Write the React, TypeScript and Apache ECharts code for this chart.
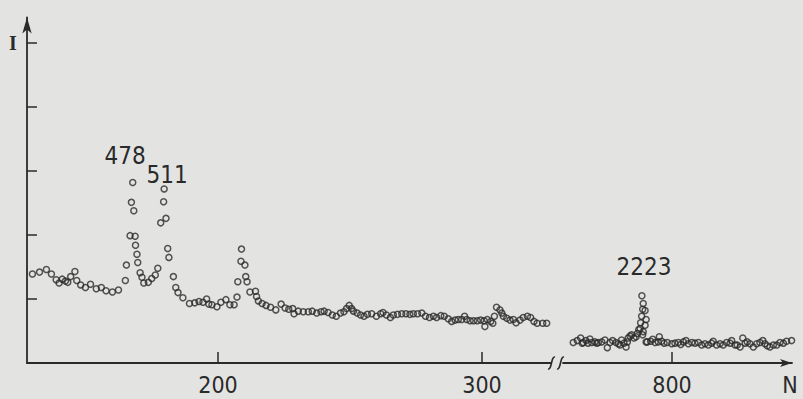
import React, { useEffect, useRef } from "react";
import * as echarts from "echarts";

// Channel numbers (N) and intensities (I), low-channel segment
const leftN = [
  129.7, 132.4, 135.0, 136.9, 138.7, 139.8, 141.0, 142.2, 143.1, 144.2, 145.8, 146.5, 148.0, 149.8, 151.7, 153.9,
  155.8, 157.6, 160.0, 162.3, 164.9, 165.3, 166.7, 167.2, 167.7, 168.1, 168.6, 168.75, 169.3, 169.6, 170.5, 171.2,
  171.9, 173.6, 174.9, 176.25, 177.2, 178.3, 179.4, 179.6, 180.3, 180.95, 181.4, 183.1, 184.0, 184.85, 186.7, 189.2,
  191.2, 192.8, 194.3, 195.7, 196.5, 197.7, 199.6, 201.1, 203.0, 204.5, 206.1, 207.2, 207.5, 208.9, 208.7, 210.2,
  210.5, 211.0, 212.1, 214.2, 214.6, 215.3, 216.7, 218.2, 219.9, 221.9, 223.9, 225.4, 226.8, 228.3, 228.8, 230.4,
  232.3, 234.2, 235.7, 237.4, 239.0, 240.2, 241.7, 243.3, 244.8, 246.4, 247.7, 248.7, 249.7, 250.6, 251.3, 252.7,
  254.0, 255.3, 256.6, 258.2, 260.0, 261.6, 262.5, 263.8, 265.3, 266.4, 268.0, 269.6, 271.2, 272.7, 274.0, 275.6,
  277.2, 278.6, 280.1, 281.6, 282.8, 284.4, 285.7, 287.2, 288.5, 289.8, 291.0, 292.3, 293.4, 294.2, 295.5, 296.8,
  298.2, 299.5, 300.8, 301.1, 302.0, 303.3, 304.1, 304.7, 305.5, 306.8, 307.5, 308.1, 309.4, 310.6, 311.9, 312.9,
  314.4, 315.6, 317.2, 318.4, 319.7, 320.9, 323.0, 324.5
];
const leftI = [
  1.39, 1.42, 1.46, 1.39, 1.30, 1.25, 1.31, 1.28, 1.26, 1.35, 1.43, 1.29, 1.22, 1.18, 1.23, 1.16,
  1.18, 1.13, 1.11, 1.14, 1.29, 1.53, 1.99, 2.51, 2.82, 2.38, 1.98, 1.84, 1.70, 1.57, 1.41, 1.34,
  1.25, 1.26, 1.32, 1.375, 1.48, 2.19, 2.52, 2.72, 2.26, 1.79, 1.65, 1.35, 1.18, 1.10, 1.02, 0.93,
  0.94, 0.96, 0.95, 1.00, 0.92, 0.91, 0.88, 0.95, 0.99, 0.91, 0.91, 1.03, 1.27, 1.78, 1.59, 1.53,
  1.35, 1.27, 1.11, 1.12, 1.04, 0.97, 0.93, 0.90, 0.87, 0.83, 0.92, 0.86, 0.84, 0.85, 0.77, 0.81,
  0.80, 0.80, 0.81, 0.78, 0.80, 0.81, 0.79, 0.75, 0.73, 0.78, 0.80, 0.85, 0.90, 0.85, 0.81, 0.78,
  0.75, 0.73, 0.76, 0.77, 0.73, 0.77, 0.79, 0.75, 0.71, 0.75, 0.76, 0.77, 0.77, 0.76, 0.77, 0.77,
  0.78, 0.73, 0.71, 0.73, 0.71, 0.74, 0.73, 0.69, 0.65, 0.67, 0.68, 0.68, 0.73, 0.68, 0.66, 0.66,
  0.66, 0.67, 0.66, 0.57, 0.68, 0.65, 0.62, 0.73, 0.87, 0.83, 0.78, 0.73, 0.70, 0.67, 0.68, 0.63,
  0.67, 0.71, 0.73, 0.71, 0.65, 0.62, 0.62, 0.62
];

// High-channel segment (after the axis break)
const rightN = [
  762.6, 764.1, 765.4, 766.0, 766.4, 767.4, 768.2, 768.9, 769.6, 770.8, 771.5, 772.1, 773.4, 774.6, 775.5, 776.5,
  777.5, 778.8, 779.7, 780.3, 780.9, 781.8, 782.6, 783.1, 783.4, 784.1, 784.7, 785.6, 786.4, 786.9, 787.4, 787.9,
  788.1, 788.5, 788.9, 789.1, 788.6, 789.8, 790.2, 789.8, 789.1, 788.9, 790.2, 790.6, 791.9, 792.7, 793.6, 794.8,
  795.2, 796.1, 797.0, 798.2, 799.9, 801.1, 802.4, 803.3, 804.3, 805.3, 806.2, 807.5, 808.7, 810.0, 811.25, 812.5,
  813.75, 815.0, 815.6, 816.9, 818.2, 819.4, 820.7, 822.0, 822.6, 823.9, 824.7, 825.8, 826.8, 827.7, 828.5, 829.5,
  830.8, 832.1, 833.3, 834.4, 835.2, 836.1, 837.1, 838.4, 839.7, 840.9, 842.2, 843.4, 845.3
];
const rightI = [
  0.32, 0.35, 0.39, 0.31, 0.32, 0.35, 0.31, 0.375, 0.32, 0.33, 0.31, 0.32, 0.33, 0.36, 0.24, 0.32,
  0.35, 0.32, 0.30, 0.28, 0.36, 0.31, 0.25, 0.33, 0.39, 0.42, 0.44, 0.39, 0.41, 0.46, 0.52, 0.54,
  0.63, 0.73, 0.84, 0.93, 1.05, 0.82, 0.68, 0.59, 0.49, 0.44, 0.33, 0.33, 0.34, 0.37, 0.32, 0.33,
  0.41, 0.34, 0.31, 0.32, 0.30, 0.31, 0.32, 0.29, 0.33, 0.35, 0.30, 0.32, 0.31, 0.32, 0.28, 0.30,
  0.28, 0.31, 0.34, 0.28, 0.30, 0.28, 0.32, 0.31, 0.35, 0.28, 0.28, 0.25, 0.39, 0.31, 0.33, 0.30,
  0.25, 0.30, 0.32, 0.35, 0.30, 0.27, 0.25, 0.28, 0.28, 0.32, 0.31, 0.34, 0.35
];

const leftTicks = [200, 300];
const rightTicks = [800];
const yTicks = [1, 2, 3, 4, 5];
const peakNames = ["478", "511", "2223"];
const axisNameX = "N";
const axisNameY = "I";

const INK = "#2a2a2a";
const BG = "#e3e4e2";
const FONT = "'Liberation Sans Narrow', 'DejaVu Sans Condensed', 'Liberation Sans', sans-serif";

export default function App() {
  const ref = useRef<HTMLDivElement>(null);
  useEffect(() => {
    if (!ref.current) return;
    const chart = echarts.init(ref.current, undefined, { renderer: "svg" });
    const leftData = leftN.map((n, i) => [n, leftI[i]]);
    const rightData = rightN.map((n, i) => [n, rightI[i]]);
    const yMax = 5.4;
    const gridTop = 363 - yMax * 64;
    const leftMin = 200 + (27 - 218) / 2.64;
    const leftMax = 200 + (551 - 218) / 2.64;
    const rightMin = 800 + (563 - 672) / 2.64;
    const rightMax = 800 + (792 - 672) / 2.64;

    const labelStyle = { color: INK, fontFamily: FONT, fontSize: 23, lineHeight: 23 };
    const seriesStyle = {
      type: "scatter" as const,
      symbol: "circle",
      symbolSize: 6,
      clip: false,
      itemStyle: { color: "rgba(0,0,0,0)", borderColor: INK, borderWidth: 1.5 },
    };

    chart.setOption({
      animation: false,
      backgroundColor: BG,
      grid: [
        { left: 27, top: gridTop, width: 524, bottom: 36 },
        { left: 563, top: gridTop, width: 229, bottom: 36 },
      ],
      xAxis: [
        {
          gridIndex: 0,
          type: "value",
          min: leftMin,
          max: leftMax,
          splitLine: { show: false },
          axisLine: { lineStyle: { color: INK, width: 1.8 } },
          axisTick: { inside: true, length: 11, customValues: leftTicks, lineStyle: { color: INK, width: 1.5 } },
          axisLabel: { customValues: leftTicks, margin: 10, ...labelStyle },
        },
        {
          gridIndex: 1,
          type: "value",
          min: rightMin,
          max: rightMax,
          splitLine: { show: false },
          axisLine: {
            lineStyle: { color: INK, width: 1.8 },
            symbol: ["none", "arrow"],
            symbolSize: [6, 12],
          },
          axisTick: { inside: true, length: 11, customValues: rightTicks, lineStyle: { color: INK, width: 1.5 } },
          axisLabel: { customValues: rightTicks, margin: 10, ...labelStyle },
        },
      ],
      yAxis: [
        {
          gridIndex: 0,
          type: "value",
          min: 0,
          max: yMax,
          splitLine: { show: false },
          axisLine: {
            show: true,
            lineStyle: { color: INK, width: 1.8 },
            symbol: ["none", "arrow"],
            symbolSize: [7, 16],
          },
          axisTick: { show: true, inside: true, length: 10, customValues: yTicks, lineStyle: { color: INK, width: 1.5 } },
          axisLabel: { show: false },
        },
        {
          gridIndex: 1,
          type: "value",
          min: 0,
          max: yMax,
          show: false,
        },
      ],
      series: [
        { ...seriesStyle, xAxisIndex: 0, yAxisIndex: 0, data: leftData },
        { ...seriesStyle, xAxisIndex: 1, yAxisIndex: 1, data: rightData },
      ],
      graphic: [
        {
          type: "text",
          x: 13,
          y: 43,
          style: { text: axisNameY, fill: INK, font: "bold 20px 'Liberation Serif', serif", align: "center", verticalAlign: "middle" },
        },
        {
          type: "text",
          x: 125,
          y: 156,
          style: { text: peakNames[0], fill: INK, fontFamily: FONT, fontSize: 24, align: "center", verticalAlign: "middle" },
        },
        {
          type: "text",
          x: 167,
          y: 175,
          style: { text: peakNames[1], fill: INK, fontFamily: FONT, fontSize: 24, align: "center", verticalAlign: "middle" },
        },
        {
          type: "text",
          x: 644,
          y: 267,
          style: { text: peakNames[2], fill: INK, fontFamily: FONT, fontSize: 24, align: "center", verticalAlign: "middle" },
        },
        {
          type: "text",
          x: 790,
          y: 385,
          style: { text: axisNameX, fill: INK, fontFamily: FONT, fontSize: 23, align: "center", verticalAlign: "middle" },
        },
        {
          type: "bezierCurve",
          shape: { x1: 548, y1: 369, x2: 555, y2: 357, cpx1: 552, cpy1: 370, cpx2: 551, cpy2: 356 },
          style: { stroke: INK, lineWidth: 1.6, fill: "none" },
        },
        {
          type: "bezierCurve",
          shape: { x1: 557, y1: 369, x2: 564, y2: 357, cpx1: 561, cpy1: 370, cpx2: 560, cpy2: 356 },
          style: { stroke: INK, lineWidth: 1.6, fill: "none" },
        },
      ],
    });
    return () => chart.dispose();
  }, []);
  return (
    <div
      ref={ref}
      style={{ position: "fixed", left: 0, top: 0, width: 803, height: 399 }}
    />
  );
}
